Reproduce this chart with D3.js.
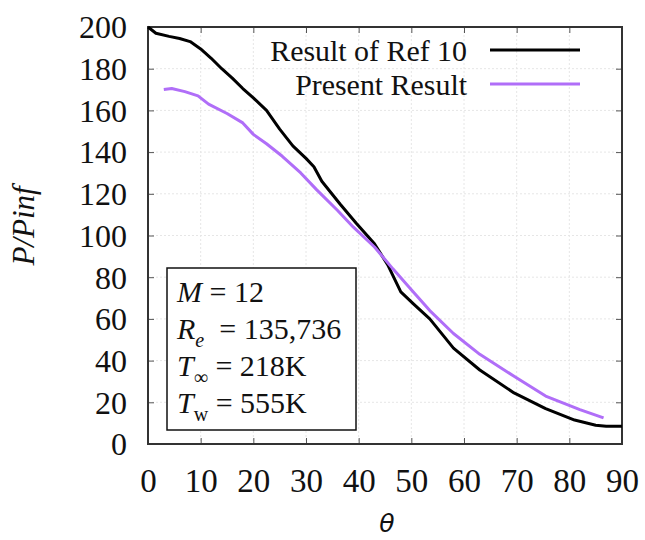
<!DOCTYPE html>
<html>
<head>
<meta charset="utf-8">
<script src="https://cdn.jsdelivr.net/npm/d3@7"></script>
<style>
  body { margin: 0; background: #fff; }
  text { font-family: "Liberation Serif", "Times New Roman", serif; fill: #111; }
</style>
</head>
<body>
<script>
// Result of Ref 10 (black)
const refTheta = [0, 1.5, 4, 6, 8, 10, 12, 14, 16, 18, 20, 22.5, 25, 27.5, 30, 31.5, 33, 36.5, 39.5, 43, 45.5, 48, 50.5, 53.5, 58, 63, 69.5, 75.5, 81, 85, 87, 90];
const refP     = [200, 197, 195.5, 194.5, 193, 189.5, 185, 180, 175.5, 170.5, 166, 160, 151, 143, 137, 133, 126, 115, 106, 96, 86, 73, 67, 60, 46, 35.5, 24.5, 17, 11.5, 9, 8.5, 8.5];

// Present Result (purple)
const presTheta = [3, 4.5, 7, 9.5, 11.5, 15, 18, 20, 22.5, 25.5, 29, 32, 36, 39, 43, 46.5, 50, 53.5, 58, 63, 69.5, 75.5, 82, 86.5];
const presP     = [170, 170.5, 169, 167, 163, 158.5, 154, 148.5, 144, 138, 130, 122, 112, 104, 94.5, 84, 74, 64, 53, 43, 32.5, 23, 16.5, 12.5];

const xTicks = d3.range(0, 91, 10);
const yTicks = d3.range(0, 201, 20);
const seriesNames = ["Result of Ref 10", "Present Result"];
const seriesColors = ["#000000", "#b06ef8"];

const W = 645, H = 540;
const margin = { top: 27, right: 23, bottom: 96, left: 148 };
const width = W - margin.left - margin.right;
const height = H - margin.top - margin.bottom;

const svg = d3.select("body").append("svg")
  .attr("width", W)
  .attr("height", H);

const g = svg.append("g").attr("transform", `translate(${margin.left},${margin.top})`);

const x = d3.scaleLinear().domain([0, 90]).range([0, width]);
const y = d3.scaleLinear().domain([0, 200]).range([height, 0]);

// shrink/grow a text so that it spans a given width
function fitWidth(sel, target) {
  const node = sel.node();
  const fs = parseFloat(sel.style("font-size"));
  const len = node.getComputedTextLength();
  sel.style("font-size", (fs * target / len).toFixed(1) + "px");
}

// faint grid
g.append("g").selectAll("line")
  .data(xTicks.slice(1, -1))
  .join("line")
  .attr("x1", d => x(d)).attr("x2", d => x(d))
  .attr("y1", 0).attr("y2", height)
  .attr("stroke", "#e6e6e6").attr("stroke-dasharray", "2,2");
g.append("g").selectAll("line")
  .data(yTicks.slice(1, -1))
  .join("line")
  .attr("x1", 0).attr("x2", width)
  .attr("y1", d => y(d)).attr("y2", d => y(d))
  .attr("stroke", "#e6e6e6").attr("stroke-dasharray", "2,2");

// axes, ticks point inward
const xAxis = g.append("g").attr("transform", `translate(0,${height})`)
  .call(d3.axisBottom(x).tickValues(xTicks).tickSize(-6).tickSizeOuter(0));
xAxis.selectAll("text").attr("y", 48).attr("dy", null)
  .style("font-size", "33px");

const yAxis = g.append("g")
  .call(d3.axisLeft(y).tickValues(yTicks).tickSize(-6).tickSizeOuter(0));
yAxis.selectAll("text").attr("x", -21).attr("dy", "0.34em")
  .style("font-size", "32px");

g.append("g")
  .call(d3.axisTop(x).tickValues(xTicks).tickSize(-6).tickSizeOuter(0).tickFormat(""));
g.append("g").attr("transform", `translate(${width},0)`)
  .call(d3.axisRight(y).tickValues(yTicks).tickSize(-6).tickSizeOuter(0).tickFormat(""));

g.selectAll(".domain").remove();
g.selectAll(".tick line").attr("stroke", "#555").attr("stroke-width", 1);
g.selectAll(".tick text").attr("fill", "#111").attr("font-family", null);

g.append("rect")
  .attr("width", width).attr("height", height)
  .attr("fill", "none").attr("stroke", "#333").attr("stroke-width", 2);

// curves
const line = d3.line().x(d => x(d[0])).y(d => y(d[1]));
const series = [d3.zip(refTheta, refP), d3.zip(presTheta, presP)];

g.selectAll("path.series")
  .data(series)
  .join("path")
  .attr("class", "series")
  .attr("fill", "none")
  .attr("stroke", (d, i) => seriesColors[i])
  .attr("stroke-width", 3)
  .attr("stroke-linejoin", "round")
  .attr("d", line);

// legend
const legend = svg.append("g");
seriesNames.forEach((name, i) => {
  const ly = 50 + i * 34;
  legend.append("text")
    .attr("x", 467).attr("y", ly + 11)
    .attr("text-anchor", "end")
    .style("font-size", "29px")
    .text(name);
  legend.append("line")
    .attr("x1", 490).attr("x2", 580)
    .attr("y1", ly).attr("y2", ly)
    .attr("stroke", seriesColors[i]).attr("stroke-width", 3);
});
fitWidth(legend.select("text"), 197);
legend.selectAll("text").style("font-size", legend.select("text").style("font-size"));

// parameter box
const box = svg.append("g");
box.append("rect")
  .attr("x", 167).attr("y", 268).attr("width", 189).attr("height", 162)
  .attr("fill", "#fff").attr("stroke", "#111").attr("stroke-width", 1.5);

// each row: [text, italic?, subscript?]
const rows = [
  [["M", 1, 0], [" = 12", 0, 0]],
  [["R", 1, 0], ["e", 1, 1], ["  = 135,736", 0, 0]],
  [["T", 1, 0], ["\u221E", 0, 1], [" = 218K", 0, 0]],
  [["T", 1, 0], ["w", 0, 1], [" = 555K", 0, 0]]
];
rows.forEach((parts, r) => {
  const t = box.append("text")
    .attr("x", 177).attr("y", 302 + r * 37)
    .style("font-size", "30px")
    .attr("xml:space", "preserve");
  let wasSub = false;
  parts.forEach(([s, it, sub]) => {
    const sp = t.append("tspan").text(s);
    if (it) sp.style("font-style", "italic");
    if (sub) { sp.attr("dy", 8).style("font-size", "20px"); wasSub = true; }
    else if (wasSub) { sp.attr("dy", -8); wasSub = false; }
  });
});

// axis titles
svg.append("text")
  .attr("transform", "translate(34,226) rotate(-90)")
  .attr("text-anchor", "middle")
  .style("font-size", "31px")
  .style("font-style", "italic")
  .text("P/Pinf");

svg.append("text")
  .attr("x", x(45) + margin.left + 2).attr("y", 532)
  .attr("text-anchor", "middle")
  .style("font-family", "'DejaVu Sans', sans-serif")
  .style("font-style", "italic")
  .style("font-size", "25px")
  .text("\u03B8");
</script>
</body>
</html>
